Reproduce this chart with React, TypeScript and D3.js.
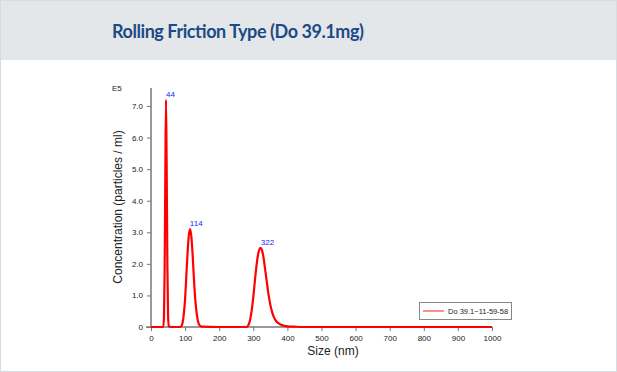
import React, { useEffect, useRef } from "react";
import * as d3 from "d3";

const sizes = [0, 20, 36, 38, 40, 42, 44, 46, 48, 50, 52, 60, 85, 90, 95, 100, 105, 110, 114, 118, 122, 126, 130, 135, 140, 145, 150, 200, 280, 285, 290, 295, 300, 305, 310, 315, 320, 322, 325, 330, 335, 340, 345, 350, 355, 360, 365, 370, 380, 390, 400, 420, 450, 1000];
const concentration = [0, 0, 0, 0.3, 1.8, 4.8, 7.2, 5.0, 2.0, 0.4, 0.02, 0, 0, 0.05, 0.3, 0.9, 1.9, 2.8, 3.1, 2.9, 2.3, 1.5, 0.85, 0.35, 0.1, 0.03, 0.01, 0, 0, 0.05, 0.2, 0.5, 0.95, 1.5, 2.0, 2.35, 2.5, 2.5, 2.45, 2.2, 1.8, 1.4, 1.0, 0.7, 0.48, 0.32, 0.22, 0.15, 0.08, 0.04, 0.02, 0.01, 0, 0];
const peakSizes = [44, 114, 322];
const peakValues = [7.2, 3.1, 2.5];
const xTicks = [0, 100, 200, 300, 400, 500, 600, 700, 800, 900, 1000];
const yTicks = [0, 1, 2, 3, 4, 5, 6, 7];
const seriesName = "Do 39.1~11-59-58";

const App = () => {
  const ref = useRef<SVGSVGElement>(null);

  useEffect(() => {
    const width = 617;
    const height = 372;
    const svg = d3.select(ref.current);
    svg.selectAll("*").remove();

    // card + header
    svg.append("rect").attr("x", 0.5).attr("y", 0.5).attr("width", width - 1).attr("height", height - 1)
      .attr("fill", "#fff").attr("stroke", "#d8dcdf");
    svg.append("rect").attr("x", 1).attr("y", 1).attr("width", width - 2).attr("height", 59).attr("fill", "#e3e7ea");
    svg.append("text").attr("x", 112).attr("y", 38)
      .attr("font-family", "Lato").attr("font-weight", "bold").attr("font-size", 18)
      .attr("fill", "#1d4a86").attr("textLength", 252).attr("lengthAdjust", "spacing")
      .text("Rolling Friction Type (Do 39.1mg)");

    const x = d3.scaleLinear().domain([0, 1000]).range([151, 492]);
    const y = d3.scaleLinear().domain([0, 7]).range([327, 106]);
    const font = "Arial, 'Liberation Sans', sans-serif";

    // axes
    const xAxis = svg.append("g").attr("transform", `translate(0,327)`)
      .call(d3.axisBottom(x).tickValues(xTicks).tickSize(4).tickSizeOuter(0).tickFormat(d3.format("d")));
    xAxis.select(".domain").attr("d", "M146,0H492").attr("stroke", "#777").attr("stroke-width", 1.5);
    xAxis.selectAll(".tick line").attr("stroke", "#777");
    xAxis.selectAll(".tick text").attr("font-size", 8).attr("font-family", font).attr("fill", "#222").attr("dy", "0.9em");

    const yAxis = svg.append("g").attr("transform", `translate(151,0)`)
      .call(d3.axisLeft(y).tickValues(yTicks).tickSize(4).tickSizeOuter(0)
        .tickFormat((d) => (d === 0 ? "0" : d3.format(".1f")(d as number))));
    yAxis.select(".domain").attr("d", `M0,88V327`).attr("stroke", "#777").attr("stroke-width", 1.5);
    yAxis.selectAll(".tick line").attr("stroke", "#777");
    yAxis.selectAll(".tick text").attr("font-size", 8).attr("font-family", font).attr("fill", "#222").attr("x", -8);

    svg.append("text").attr("x", 112).attr("y", 91).attr("font-size", 8).attr("font-family", font).attr("fill", "#222").text("E5");

    svg.append("text").attr("x", 333).attr("y", 355).attr("text-anchor", "middle")
      .attr("font-size", 12).attr("font-family", font).attr("fill", "#222").text("Size (nm)");
    svg.append("text").attr("transform", "translate(122,207) rotate(-90)").attr("text-anchor", "middle")
      .attr("font-size", 12).attr("font-family", font).attr("fill", "#222").text("Concentration (particles / ml)");

    // line
    const pts = sizes.map((s, i) => [s, concentration[i]] as [number, number]);
    svg.append("path").datum(pts)
      .attr("fill", "none").attr("stroke", "#ff0000").attr("stroke-width", 2.2)
      .attr("d", d3.line<[number, number]>().x((d) => x(d[0])).y((d) => y(d[1])).curve(d3.curveMonotoneX));

    // peak labels
    peakSizes.forEach((p, i) => {
      svg.append("text").attr("x", x(p)).attr("y", y(peakValues[i]) - 3)
        .attr("font-size", 8).attr("font-family", font).attr("fill", "#1a1aff").text(String(p));
    });

    // legend
    const lg = svg.append("g").attr("transform", "translate(419,302)");
    lg.append("rect").attr("x", 0.5).attr("y", 0.5).attr("width", 92).attr("height", 17)
      .attr("fill", "#fff").attr("stroke", "#888");
    lg.append("line").attr("x1", 4).attr("x2", 25).attr("y1", 9).attr("y2", 9)
      .attr("stroke", "#ff6a6a").attr("stroke-width", 1.5);
    lg.append("text").attr("x", 29).attr("y", 12).attr("font-size", 7.5).attr("font-family", font)
      .attr("fill", "#222").text(seriesName);
  }, []);

  return (
    <div style={{ position: "fixed", left: 0, top: 0 }}>
      <svg ref={ref} width={617} height={372} style={{ display: "block" }} />
    </div>
  );
};

export default App;
